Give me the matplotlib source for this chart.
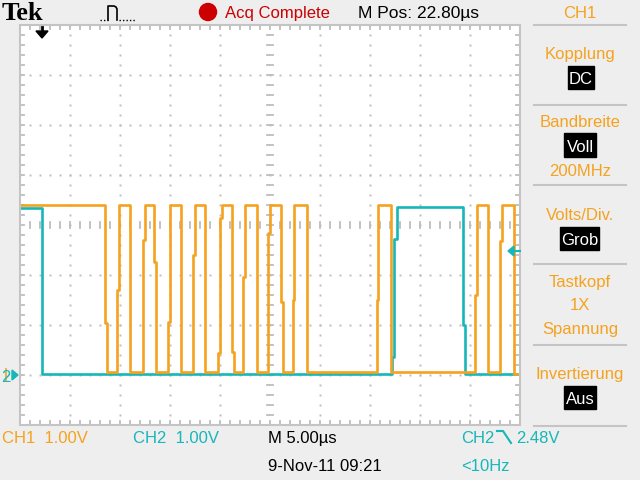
import numpy as np
import matplotlib.pyplot as plt
from matplotlib.patches import Rectangle, Polygon, Circle

# time in us from the left edge of the screen (5 us/div), level in volts above ground
ch1_t = [0.0, 8.5, 8.7, 9.7, 9.9, 11.0, 12.3, 12.5, 13.4, 13.6, 14.8, 15.0, 16.1,
         17.3, 17.5, 18.5, 19.8, 20.0, 20.2, 21.2, 21.4, 22.3, 22.5, 23.7, 24.8,
         25.0, 26.1, 26.3, 27.3, 27.4, 28.7, 35.7, 35.8, 37.1, 45.5, 45.7, 46.8,
         48.0, 48.2, 49.4, 50.0]
ch1_v = [3.40, 1.04, 0.07, 1.70, 3.40, 0.07, 2.70, 3.40, 2.26, 0.07, 1.06, 3.40, 0.07,
         2.40, 3.40, 0.07, 0.44, 3.14, 3.40, 0.46, 0.07, 1.96, 3.40, 0.07, 2.84,
         3.40, 1.46, 0.07, 1.50, 3.40, 0.07, 1.50, 3.40, 0.07, 1.60, 3.40, 0.07,
         2.68, 3.40, 0.03, 0.03]

ch2_t = [0.0, 2.2, 37.2, 37.4, 37.7, 44.3, 44.5, 50.0]
ch2_v = [3.34, 0.03, 0.36, 2.72, 3.36, 1.00, 0.03, 0.03]

side_labels = [("Kopplung", 59), ("Bandbreite", 127), ("200MHz", 176), ("Volts/Div.", 220),
               ("Tastkopf", 287), ("1X", 310), ("Spannung", 334), ("Invertierung", 379)]
side_boxes = [("DC", 568, 66, 26, 23), ("Voll", 564, 133, 32, 24),
              ("Grob", 560, 227, 39, 23), ("Aus", 564, 386, 32, 23)]
side_lines = [25, 105, 185, 264, 345, 426]

ORANGE = '#f5a21e'
CYAN = '#17b6b8'
BG = '#eeeeee'
GRID = '#bdbdbd'
SANS = ['Liberation Sans', 'DejaVu Sans']

fig = plt.figure(figsize=(6.4, 4.8), dpi=100, facecolor=BG)

# scope screen: 500x400 px, 10 x 8 divisions
ax = fig.add_axes([20/640, 55/480, 500/640, 400/480])
ax.set_facecolor('white')
ax.set_xlim(0, 50)
ax.set_ylim(-1, 7)
ax.set_xticks([])
ax.set_yticks([])
for s in ax.spines.values():
    s.set_visible(False)

# dotted graticule
dots_v = np.arange(-1, 7.01, 0.2)
dots_t = np.arange(0, 50.01, 1.0)
for t in range(5, 50, 5):
    if t != 25:
        ax.plot(np.full(len(dots_v), t), dots_v, ls='none', marker='s', ms=1.4,
                mec='none', mfc=GRID, zorder=1)
for v in range(0, 7):
    if v != 3:
        ax.plot(dots_t, np.full(len(dots_t), v), ls='none', marker='s', ms=1.4,
                mec='none', mfc=GRID, zorder=1)
# centre cross with small ticks
for t in dots_t:
    ax.plot([t, t], [2.94, 3.06], color=GRID, lw=1.3, zorder=1)
for v in dots_v:
    ax.plot([24.7, 25.3], [v, v], color=GRID, lw=1.3, zorder=1)
# ticks on the border
for t in dots_t:
    ax.plot([t, t], [6.92, 7.0], color=GRID, lw=1.3, zorder=1)
    ax.plot([t, t], [-1.0, -0.92], color=GRID, lw=1.3, zorder=1)
for v in dots_v:
    ax.plot([0, 0.4], [v, v], color=GRID, lw=1.3, zorder=1)
    ax.plot([49.6, 50], [v, v], color=GRID, lw=1.3, zorder=1)

ax.plot(ch2_t, ch2_v, drawstyle='steps-post', color=CYAN, lw=1.9, zorder=3)
ax.plot(ch1_t, ch1_v, drawstyle='steps-post', color=ORANGE, lw=1.9, zorder=4)

# overlay in pixel coordinates for the frame, markers and texts
d = fig.add_axes([0, 0, 1, 1], zorder=5)
d.set_xlim(0, 640)
d.set_ylim(480, 0)
d.axis('off')

d.add_patch(Rectangle((20, 25), 500, 400, fill=False, ec='#c4c4c4', lw=1.5))

# trigger position arrow
d.plot([42, 42], [27, 33], color='black', lw=2)
d.add_patch(Polygon([[36, 31], [48, 31], [42, 38]], closed=True, color='black'))
# trigger level marker
d.add_patch(Polygon([[508, 251], [514, 246], [514, 256]], closed=True, color=CYAN))
d.plot([513, 520], [251, 251], color=CYAN, lw=1.5)
# ground marker (CH1 marker sits underneath)
d.plot([6, 6], [369, 381], color=ORANGE, lw=1.2)
d.text(1, 382, "2", color=CYAN, fontsize=12, family=SANS)
d.add_patch(Polygon([[12, 370], [18, 375], [12, 380]], closed=True, color=CYAN))

# top bar
d.text(2, 20, "Tek", fontsize=19, fontweight='bold', family=['Liberation Serif', 'DejaVu Serif'])
d.plot([100, 108], [20, 20], color='black', lw=1, ls=(0, (1, 1.5)))
d.plot([108, 108, 114, 116, 117, 117], [20, 6, 6, 7, 9, 20], color='black', lw=1.2)
d.plot([119, 136], [20, 20], color='black', lw=1, ls=(0, (1, 1.5)))
d.add_patch(Circle((208, 12), 8.5, color='#cc0000'))
d.text(225, 18, "Acq Complete", color='#cc0000', fontsize=12, family=SANS)
d.text(358, 18, "M Pos: 22.80\u00b5s", color='black', fontsize=12.5, family=SANS)
d.text(580, 18, "CH1", color=ORANGE, fontsize=12, family=SANS, ha='center')

# side menu
for y in side_lines:
    d.plot([534, 626], [y, y], color='#c4c4c4', lw=1.5)
for label, y in side_labels:
    d.text(580, y, label, color=ORANGE, fontsize=12, family=SANS, ha='center')
for label, x, y, w, h in side_boxes:
    d.add_patch(Rectangle((x, y), w, h, color='black'))
    d.text(x + w / 2, y + h - 5, label, color='white', fontsize=12, family=SANS, ha='center')

# bottom bar
d.text(2, 443, "CH1  1.00V", color=ORANGE, fontsize=12, family=SANS)
d.text(133, 443, "CH2  1.00V", color=CYAN, fontsize=12, family=SANS)
d.text(268, 443, "M 5.00\u00b5s", color='black', fontsize=12, family=SANS)
d.text(461, 443, "CH2", color=CYAN, fontsize=12, family=SANS)
d.plot([497, 503, 511], [431, 431, 443], color=CYAN, lw=1.5)
d.text(516, 443, "2.48V", color=CYAN, fontsize=12, family=SANS)
d.text(268, 471, "9-Nov-11 09:21", color='black', fontsize=12, family=SANS)
d.text(461, 471, "<10Hz", color=CYAN, fontsize=12, family=SANS)

fig.savefig('out.png', dpi=100, facecolor=BG)
